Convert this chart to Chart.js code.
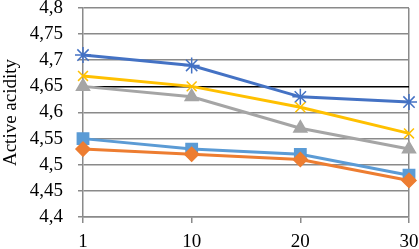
<!DOCTYPE html>
<html><head><meta charset="utf-8">
<script src="https://cdn.jsdelivr.net/npm/chart.js@4/dist/chart.umd.min.js"></script>
<style>html,body{margin:0;padding:0;background:#fff;}canvas{display:block;}</style>
</head><body>
<canvas id="c" width="419" height="249"></canvas>
<script>
const categories = ['1', '10', '20', '30'];
const seriesStar = [4.71, 4.69, 4.63, 4.62];
const seriesCross = [4.67, 4.65, 4.61, 4.56];
const seriesTriangle = [4.65, 4.63, 4.57, 4.53];
const seriesSquare = [4.55, 4.53, 4.52, 4.48];
const seriesDiamond = [4.53, 4.52, 4.51, 4.47];
const yTickLabels = ['4,4', '4,45', '4,5', '4,55', '4,6', '4,65', '4,7', '4,75', '4,8'];
const yTitle = 'Active acidity';

function ds(data, color, style, radius) {
  return { data, borderColor: color, backgroundColor: color, pointStyle: style,
    pointRadius: radius, pointBorderColor: color, pointBackgroundColor: color,
    pointBorderWidth: 1.5, borderWidth: 3, tension: 0, clip: false };
}
const font = { family: 'Liberation Serif', size: 19, lineHeight: 1 };
new Chart(document.getElementById('c'), {
  type: 'line',
  data: {
    labels: categories,
    datasets: [
      ds(seriesDiamond, '#ED7D31', 'rectRot', 7),
      ds(seriesSquare, '#5B9BD5', 'rect', 8),
      ds(seriesTriangle, '#A5A5A5', 'triangle', 7.5),
      ds(seriesCross, '#FFC000', 'crossRot', 7),
      ds(seriesStar, '#4472C4', 'star', 8),
    ]
  },
  options: {
    responsive: false, animation: false,
    layout: { autoPadding: false, padding: { top: 8, right: 10, left: 0, bottom: 0 } },
    plugins: { legend: { display: false }, tooltip: { enabled: false } },
    scales: {
      x: {
        offset: false,
        afterFit: s => { s.height = 32; s.paddingLeft = 0; s.paddingRight = 0; },
        grid: { color: c => c.index === categories.length - 1 ? '#8a8a8a' : 'rgba(0,0,0,0)', tickColor: '#8a8a8a', tickLength: 6, lineWidth: 1.5 },
        border: { color: '#8a8a8a', width: 1.5 },
        ticks: { color: '#000', font, padding: 10, maxRotation: 0 }
      },
      y: {
        min: 4.4, max: 4.8,
        afterFit: s => { s.width = 83; s.paddingTop = 0; s.paddingBottom = 0; },
        grid: { color: c => (c.tick && Math.abs(c.tick.value - 4.65) < 1e-6) ? '#000' : '#8a8a8a', lineWidth: 1.5, tickLength: 5 },
        border: { color: '#8a8a8a', width: 1.5 },
        ticks: { stepSize: 0.05, color: '#000', font, padding: 15,
          callback: (v, i) => yTickLabels[i] },
        title: { display: true, text: yTitle, color: '#000', font: { family: 'Liberation Serif', size: 19 }, padding: 0 }
      }
    }
  }
});
</script>
</body></html>
